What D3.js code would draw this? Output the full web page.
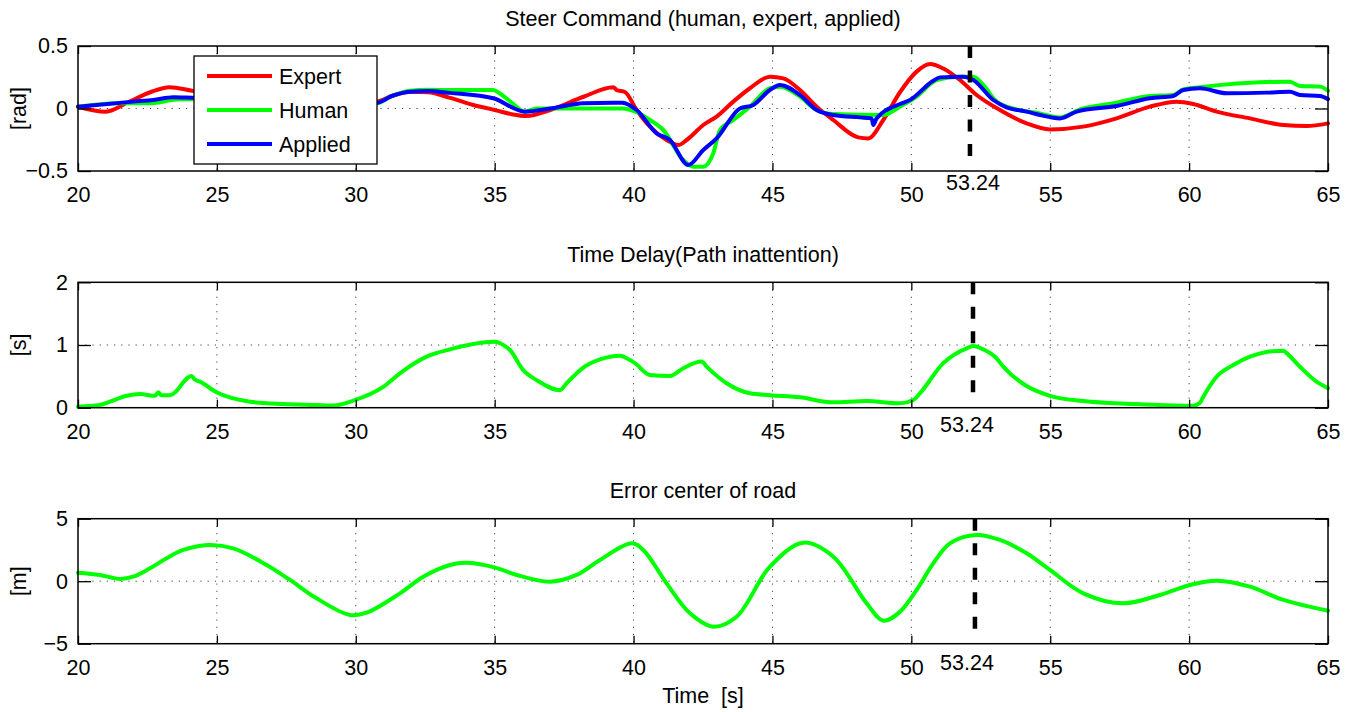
<!DOCTYPE html>
<html>
<head>
<meta charset="utf-8">
<script src="https://cdn.jsdelivr.net/npm/d3@7"></script>
<style>
  html, body { margin: 0; padding: 0; background: #fff; }
  svg { display: block; font-family: "Liberation Sans", Arial, Helvetica, sans-serif; }
</style>
</head>
<body>
<script>
// time samples [t, value]
const expert = [[20,0.014],[21.0,-0.026],[21.8,0.05],[22.6,0.13],[23.3,0.17],[24.1,0.142],[25,0.11],[26,0.07],[27,0.04],[28,0.025],[29,0.025],[30,0.04],[30.75,0.054],[31.3,0.1],[31.95,0.134],[32.6,0.13],[33.4,0.085],[34.2,0.03],[35.0,-0.012],[35.6,-0.045],[36.15,-0.06],[37.0,-0.012],[38.2,0.094],[39.27,0.17],[39.39,0.148],[39.69,0.132],[40.11,-0.012],[40.59,-0.145],[41.19,-0.252],[41.61,-0.292],[41.91,-0.252],[42.51,-0.132],[42.99,-0.065],[43.59,0.055],[44.19,0.162],[44.91,0.255],[45.39,0.241],[45.99,0.148],[46.59,0.015],[47.19,-0.092],[48.09,-0.231],[48.45,-0.239],[48.99,-0.092],[49.59,0.13],[50.19,0.295],[50.67,0.356],[51.15,0.32],[51.75,0.228],[52.35,0.108],[53.19,-0.012],[54.15,-0.119],[54.99,-0.167],[56.19,-0.145],[57.39,-0.079],[58.59,0.015],[59.55,0.055],[60.15,0.036],[60.99,-0.025],[62.19,-0.079],[63.39,-0.132],[64.23,-0.14],[65,-0.119]];
const human = [[20,0.014],[21.39,0.042],[22.59,0.042],[23.67,0.074],[24.1,0.074],[25,0.07],[27,0.05],[29,0.04],[30.75,0.042],[31.3,0.1],[31.95,0.142],[32.6,0.15],[33.39,0.148],[34.95,0.148],[35.19,0.12],[35.6,0.05],[36.09,-0.025],[36.5,0.0],[39.6,0.0],[40.11,-0.03],[40.59,-0.092],[41.07,-0.172],[41.79,-0.412],[42.15,-0.465],[42.51,-0.465],[42.87,-0.358],[43.11,-0.172],[43.59,-0.092],[44.19,0.015],[44.91,0.162],[45.27,0.175],[45.99,0.095],[46.59,-0.012],[47.19,-0.044],[48.99,-0.052],[49.59,0.015],[50.19,0.095],[50.91,0.228],[51.75,0.255],[52.23,0.255],[52.59,0.188],[53.07,0.055],[53.79,-0.007],[54.63,-0.039],[55.35,-0.071],[56.07,-0.007],[57.39,0.047],[58.59,0.1],[59.43,0.108],[59.79,0.153],[60.39,0.17],[63.63,0.215],[63.99,0.18],[64.71,0.175],[65,0.142]];
const applied = [[20,0.014],[21.99,0.055],[22.71,0.068],[23.43,0.09],[24.1,0.086],[25,0.08],[27,0.06],[29,0.05],[30.75,0.045],[31.3,0.1],[31.95,0.134],[32.6,0.14],[33.39,0.125],[34.95,0.082],[36.09,-0.025],[37.0,0.0],[38.19,0.042],[39.27,0.047],[39.6,0.047],[40.11,-0.012],[40.83,-0.199],[41.31,-0.252],[41.97,-0.452],[42.51,-0.332],[42.99,-0.239],[43.83,0.0],[44.31,0.028],[44.91,0.148],[45.27,0.188],[45.99,0.108],[46.59,-0.012],[47.19,-0.052],[48.15,-0.071],[48.57,-0.079],[48.63,-0.132],[48.75,-0.079],[49.59,0.036],[49.95,0.068],[50.79,0.222],[51.03,0.249],[51.87,0.255],[52.23,0.228],[52.95,0.068],[53.43,0.009],[54.15,-0.025],[54.63,-0.052],[55.35,-0.079],[55.95,-0.025],[57.39,0.02],[58.59,0.082],[59.43,0.1],[59.79,0.148],[60.39,0.162],[61.35,0.122],[62.79,0.127],[63.63,0.134],[63.99,0.108],[64.71,0.1],[65,0.075]];
const delay = [[20,0.016],[20.79,0.043],[21.15,0.096],[21.75,0.19],[22.23,0.218],[22.77,0.19],[22.89,0.245],[23.0,0.2],[23.31,0.2],[24.09,0.505],[24.2,0.45],[24.39,0.415],[24.99,0.245],[26.19,0.096],[27.39,0.059],[28.59,0.043],[29.19,0.035],[29.91,0.112],[31.0,0.335],[31.59,0.548],[32.55,0.814],[33.39,0.93],[34.99,1.05],[35.31,1.0],[35.55,0.92],[36.03,0.6],[36.51,0.44],[37.35,0.28],[37.59,0.39],[38.19,0.64],[38.79,0.77],[39.51,0.83],[39.87,0.76],[40.05,0.71],[40.59,0.52],[41.31,0.505],[41.79,0.63],[42.45,0.735],[42.63,0.655],[43.35,0.39],[44.19,0.23],[44.91,0.2],[45.99,0.165],[47.19,0.085],[48.39,0.107],[49.59,0.07],[50.07,0.123],[50.31,0.23],[51.15,0.71],[51.99,0.947],[52.23,0.984],[52.59,0.93],[53.07,0.788],[53.31,0.655],[54.15,0.346],[54.99,0.19],[56.19,0.107],[57.99,0.059],[59.79,0.032],[60.15,0.032],[60.39,0.08],[60.51,0.175],[60.99,0.494],[61.59,0.68],[62.19,0.813],[62.79,0.888],[63.39,0.91],[63.51,0.87],[63.99,0.654],[64.59,0.415],[65,0.31]];
const roadError = [[20,0.68],[20.79,0.5],[21.51,0.18],[21.99,0.36],[22.59,1.03],[23.19,1.83],[23.79,2.5],[24.69,2.9],[25.59,2.63],[26.79,1.3],[27.63,0.1],[28.59,-1.37],[29.79,-2.7],[30.39,-2.52],[31.59,-0.97],[32.43,0.36],[33.39,1.3],[33.99,1.48],[34.99,1.11],[35.79,0.5],[36.99,-0.04],[37.95,0.5],[38.79,1.7],[39.93,3.03],[40.35,2.5],[41.19,-0.17],[42.03,-2.57],[42.87,-3.64],[43.71,-2.84],[44.91,1.16],[46.11,3.08],[47.19,1.96],[48.39,-1.77],[48.99,-3.16],[49.59,-2.45],[50.19,-0.7],[50.79,1.43],[51.39,3.03],[52.35,3.7],[53.19,3.3],[54.15,2.23],[54.99,0.9],[56.19,-0.97],[57.63,-1.77],[58.95,-1.1],[60.03,-0.3],[61.0,0.04],[62.19,-0.44],[63.39,-1.5],[65,-2.36]];

const xTicks = [20, 25, 30, 35, 40, 45, 50, 55, 60, 65];
const markerLabel = "53.24";
const legendNames = ["Expert", "Human", "Applied"];
const colors = ["#ff0000", "#00ff00", "#0000ff"];

const width = 1354, height = 712;
const left = 78, right = 1328;
const font = 21.5;

const svg = d3.select("body").append("svg")
  .attr("width", width)
  .attr("height", height);

const x = d3.scaleLinear().domain([20, 65]).range([left, right]);

const panels = [
  { title: "Steer Command (human, expert, applied)", ylab: "[rad]", top: 46, bottom: 171,
    domain: [-0.5, 0.5], yTicks: [-0.5, 0, 0.5], grid: [0],
    series: [expert, human, applied], cols: colors, curve: d3.curveMonotoneX,
    marker: 52.11, labelDx: 3, labelDy: 19 },
  { title: "Time Delay(Path inattention)", ylab: "[s]", top: 282.3, bottom: 407.7,
    domain: [0, 2], yTicks: [0, 1, 2], grid: [1],
    series: [delay], cols: [colors[1]], curve: d3.curveMonotoneX,
    marker: 52.22, labelDx: -6, labelDy: 24 },
  { title: "Error center of road", ylab: "[m]", top: 518.7, bottom: 643.7,
    domain: [-5, 5], yTicks: [-5, 0, 5], grid: [0],
    series: [roadError], cols: [colors[1]], curve: d3.curveCatmullRom.alpha(0.5),
    marker: 52.29, labelDx: -8, labelDy: 26 }
];

panels.forEach((p, k) => {
  const y = d3.scaleLinear().domain(p.domain).range([p.bottom, p.top]);
  const g = svg.append("g");

  // dotted grid
  g.selectAll(".vgrid")
    .data(xTicks.slice(1, -1))
    .enter().append("line")
    .attr("x1", d => x(d)).attr("x2", d => x(d))
    .attr("y1", p.top).attr("y2", p.bottom)
    .attr("stroke", "#444").attr("stroke-width", 1)
    .attr("stroke-dasharray", "1.2,6");
  g.selectAll(".hgrid")
    .data(p.grid)
    .enter().append("line")
    .attr("x1", left).attr("x2", right)
    .attr("y1", d => y(d)).attr("y2", d => y(d))
    .attr("stroke", "#444").attr("stroke-width", 1)
    .attr("stroke-dasharray", "1.2,6");

  // data lines
  const line = d3.line().x(d => x(d[0])).y(d => y(d[1])).curve(p.curve);
  p.series.forEach((s, i) => {
    g.append("path")
      .datum(s)
      .attr("d", line)
      .attr("fill", "none")
      .attr("stroke", p.cols[i])
      .attr("stroke-width", 4)
      .attr("stroke-linejoin", "round")
      .attr("stroke-linecap", "round");
  });

  // axes with inward ticks on all four sides
  const fmt = d3.format("");
  g.append("g")
    .attr("transform", "translate(0," + p.bottom + ")")
    .call(d3.axisBottom(x).tickValues(xTicks).tickSizeInner(-8).tickSizeOuter(0).tickPadding(15.7))
    .call(a => a.select(".domain").remove());
  g.append("g")
    .attr("transform", "translate(0," + p.top + ")")
    .call(d3.axisTop(x).tickValues(xTicks).tickSizeInner(-8).tickSizeOuter(0).tickFormat(""))
    .call(a => a.select(".domain").remove());
  g.append("g")
    .attr("transform", "translate(" + left + ",0)")
    .call(d3.axisLeft(y).tickValues(p.yTicks).tickSizeInner(-13).tickSizeOuter(0).tickPadding(10).tickFormat(fmt))
    .call(a => a.select(".domain").remove());
  g.append("g")
    .attr("transform", "translate(" + right + ",0)")
    .call(d3.axisRight(y).tickValues(p.yTicks).tickSizeInner(-13).tickSizeOuter(0).tickFormat(""))
    .call(a => a.select(".domain").remove());
  g.selectAll(".tick line").attr("stroke", "#000").attr("stroke-width", 1.3);
  g.selectAll(".tick text")
    .attr("fill", "#000")
    .style("font-size", font + "px")
    .style("font-family", "'Liberation Sans', Arial, Helvetica, sans-serif");

  g.append("rect")
    .attr("x", left).attr("y", p.top)
    .attr("width", right - left).attr("height", p.bottom - p.top)
    .attr("fill", "none").attr("stroke", "#000").attr("stroke-width", 1.5);

  // marker
  g.append("line")
    .attr("x1", x(p.marker)).attr("x2", x(p.marker))
    .attr("y1", p.top).attr("y2", p.bottom - 10)
    .attr("stroke", "#000").attr("stroke-width", 4.5)
    .attr("stroke-dasharray", "12,12.5");
  g.append("text")
    .attr("x", x(p.marker) + p.labelDx)
    .attr("y", p.bottom + p.labelDy)
    .attr("text-anchor", "middle")
    .style("font-size", font + "px")
    .text(markerLabel);

  // titles
  g.append("text")
    .attr("x", (left + right) / 2)
    .attr("y", p.top - 20.5)
    .attr("text-anchor", "middle")
    .style("font-size", font + "px")
    .text(p.title);
  g.append("text")
    .attr("transform", "translate(25.5," + (p.top + p.bottom) / 2 + ") rotate(-90)")
    .attr("text-anchor", "middle")
    .style("font-size", font + "px")
    .text(p.ylab);
});

svg.append("text")
  .attr("x", (left + right) / 2)
  .attr("y", 703)
  .attr("text-anchor", "middle")
  .style("font-size", font + "px")
  .text("Time\u00a0\u00a0[s]");

// legend
const leg = svg.append("g").attr("transform", "translate(194,56)");
leg.append("rect")
  .attr("width", 183).attr("height", 108)
  .attr("fill", "#fff").attr("stroke", "#000").attr("stroke-width", 1.3);
legendNames.forEach((name, i) => {
  const ly = 20 + i * 34;
  leg.append("line")
    .attr("x1", 13).attr("x2", 78)
    .attr("y1", ly).attr("y2", ly)
    .attr("stroke", colors[i]).attr("stroke-width", 4);
  leg.append("text")
    .attr("x", 85).attr("y", ly + 8)
    .style("font-size", font + "px")
    .text(name);
});
</script>
</body>
</html>
